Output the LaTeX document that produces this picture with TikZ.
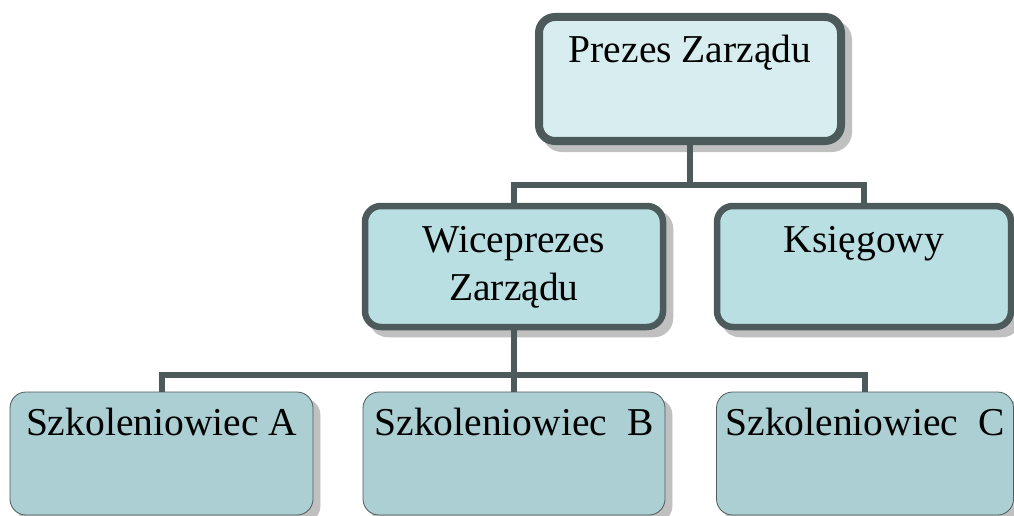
\documentclass[tikz,border=0pt]{standalone}
\usepackage{fontspec}
\setmainfont{Liberation Serif}
\usetikzlibrary{shadows}
\definecolor{bord}{HTML}{4C5A5B}
\definecolor{fillA}{HTML}{D8EDF0}
\definecolor{fillB}{HTML}{B9DFE3}
\definecolor{fillC}{HTML}{ABCFD2}
\definecolor{shgray}{HTML}{C0C0C0}
\begin{document}
\begin{tikzpicture}[x=1pt,y=-1pt,
  box/.style={rectangle, rounded corners=16pt, draw=bord, inner sep=0pt,
    font=\fontsize{39.5}{48}\selectfont, text=black,
    drop shadow={shadow xshift=7pt, shadow yshift=-7pt, fill=shgray, draw=shgray, opacity=1}},
  boxtop/.style={box, fill=fillA, line width=8pt, text height=46pt, text depth=78pt},
  boxmid/.style={box, fill=fillB, line width=6.5pt, text height=46pt, text depth=75pt},
  boxlow/.style={box, fill=fillC, line width=0.8pt, text height=43pt, text depth=80pt},
  conn/.style={draw=bord, line width=6pt}]
\useasboundingbox (0,0) rectangle (1014,516);

\node[boxtop, minimum width=302pt] (top) at (690,79) {Prezes Zarządu};
\node[boxmid, minimum width=298pt] (vice) at (514,266.5)
  {\begin{tabular}[t]{@{}c@{}}Wiceprezes\\Zarządu\end{tabular}};
\node[boxmid, minimum width=294pt] (ks) at (864,266.5) {Księgowy};
\node[boxlow, minimum width=303pt] (sa) at (161.5,453.5) {Szkoleniowiec A};
\node[boxlow, minimum width=302pt] (sb) at (514,453.5) {Szkoleniowiec~ B};
\node[boxlow, minimum width=297pt] (sc) at (865,453.5) {Szkoleniowiec~ C};

\coordinate (j1) at (690,185);
\coordinate (j2) at (514,375);
\draw[conn] (top.south) -- (j1);
\draw[conn] (vice.north) |- (j1) -| (ks.north);
\draw[conn] (vice.south) -- (j2);
\draw[conn] (sa.north) |- (j2) -| (sc.north);
\draw[conn] (j2) -- (sb.north);
\end{tikzpicture}
\end{document}
